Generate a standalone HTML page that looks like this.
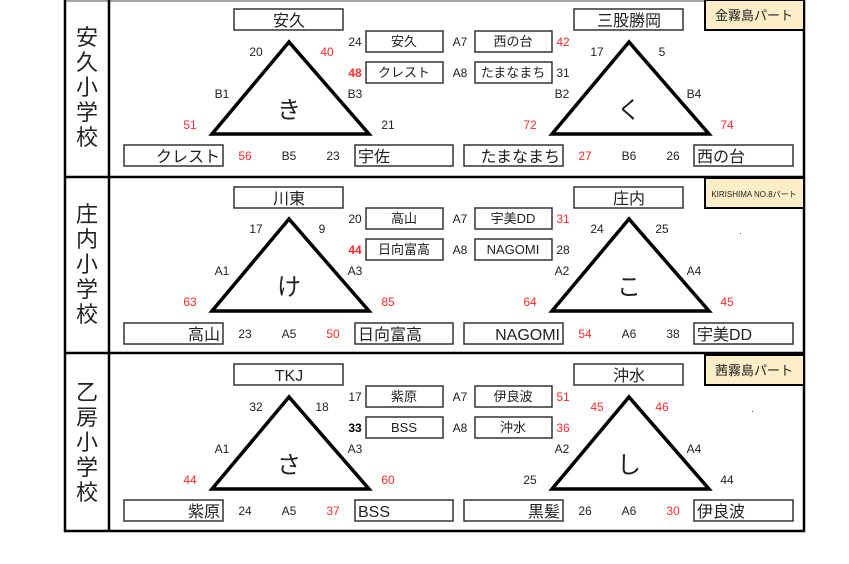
<!DOCTYPE html>
<html><head><meta charset="utf-8"><style>
html,body{margin:0;padding:0;background:#fff;width:849px;height:564px;overflow:hidden}
svg{display:block}
text{font-family:"Liberation Sans","Noto Sans CJK JP",sans-serif;fill:#222}
.n{font-size:12px;text-anchor:middle}
.r{fill:#ff2a2a}
.b{font-weight:bold}
.bx{fill:#fff;stroke:#333;stroke-width:1.5}
.t{font-size:16px;text-anchor:middle}
.s{font-size:13px;text-anchor:middle}
.c{font-size:24px;text-anchor:middle}
.v{font-size:22px;text-anchor:middle}
.tri{fill:#fff;stroke:#000;stroke-width:3.5;stroke-linejoin:miter}
</style></head><body>
<svg width="849" height="564" viewBox="0 0 849 564" xmlns="http://www.w3.org/2000/svg">
<rect x="0" y="0" width="849" height="564" fill="#fff"/>
<line x1="64" y1="1" x2="805" y2="1" stroke="#888" stroke-width="1.5"/>
<line x1="65" y1="0" x2="65" y2="532" stroke="#000" stroke-width="2.5"/>
<line x1="804" y1="0" x2="804" y2="532" stroke="#000" stroke-width="2.5"/>
<line x1="109" y1="0" x2="109" y2="532" stroke="#000" stroke-width="2.5"/>
<line x1="64" y1="177" x2="805" y2="177" stroke="#000" stroke-width="2.5"/>
<line x1="64" y1="353" x2="805" y2="353" stroke="#000" stroke-width="2.5"/>
<line x1="64" y1="531" x2="805" y2="531" stroke="#000" stroke-width="2.5"/>

<!-- labels -->
<rect x="705" y="0" width="99" height="30" fill="#fdeec8" stroke="#000" stroke-width="2"/>
<text x="754" y="20" style="font-size:13px;text-anchor:middle">金霧島パート</text>
<rect x="705" y="178" width="99" height="30" fill="#fdeec8" stroke="#000" stroke-width="2"/>
<text x="754" y="197" style="font-size:8px;text-anchor:middle">KIRISHIMA NO.8パート</text>
<rect x="705" y="355" width="99" height="30" fill="#fdeec8" stroke="#000" stroke-width="2"/>
<text x="754" y="375" style="font-size:13px;text-anchor:middle">茜霧島パート</text>
<rect x="740" y="233" width="1" height="1" fill="#555"/>
<rect x="752" y="411" width="1" height="1" fill="#555"/>

<!-- Section 1 -->
<g transform="translate(0,0)">
<text class="v" x="87" y="45">安</text><text class="v" x="87" y="70">久</text><text class="v" x="87" y="95">小</text><text class="v" x="87" y="120">学</text><text class="v" x="87" y="145">校</text>
<rect class="bx" x="234" y="9" width="109" height="21"/><text class="t" x="289" y="26">安久</text>
<rect class="bx" x="574" y="9" width="109" height="21"/><text class="t" x="629" y="26">三股勝岡</text>
<polygon class="tri" points="289,42 212,134 369,134"/>
<polygon class="tri" points="629,42 552,134 709,134"/>
<text class="c" x="289" y="118">き</text><text class="c" x="629" y="118">く</text>
<rect class="bx" x="366" y="31" width="77" height="21"/><text class="s" x="404" y="46">安久</text>
<rect class="bx" x="366" y="62" width="77" height="21"/><text class="s" x="404" y="77">クレスト</text>
<rect class="bx" x="475" y="31" width="77" height="21"/><text class="s" x="513" y="46">西の台</text>
<rect class="bx" x="475" y="62" width="77" height="21"/><text class="s" x="513" y="77">たまなまち</text>
<text class="n" x="355" y="46">24</text><text class="n r b" x="355" y="77">48</text>
<text class="n" x="460" y="46">A7</text><text class="n" x="460" y="77">A8</text>
<text class="n r" x="563" y="46">42</text><text class="n" x="563" y="77">31</text>
<text class="n" x="256" y="56">20</text><text class="n r" x="327" y="56">40</text>
<text class="n" x="222" y="98">B1</text><text class="n" x="355" y="98">B3</text>
<text class="n r" x="190" y="129">51</text><text class="n" x="388" y="129">21</text>
<text class="n" x="597" y="56">17</text><text class="n" x="662" y="56">5</text>
<text class="n" x="562" y="98">B2</text><text class="n" x="694" y="98">B4</text>
<text class="n r" x="530" y="129">72</text><text class="n r" x="727" y="129">74</text>
<rect class="bx" x="124" y="145" width="99" height="21"/><text class="t" x="220" y="162" style="text-anchor:end">クレスト</text>
<rect class="bx" x="355" y="145" width="98" height="21"/><text class="t" x="358" y="162" style="text-anchor:start">宇佐</text>
<rect class="bx" x="464" y="145" width="99" height="21"/><text class="t" x="560" y="162" style="text-anchor:end">たまなまち</text>
<rect class="bx" x="694" y="145" width="99" height="21"/><text class="t" x="697" y="162" style="text-anchor:start">西の台</text>
<text class="n r" x="245" y="160">56</text><text class="n" x="289" y="160">B5</text><text class="n" x="333" y="160">23</text>
<text class="n r" x="585" y="160">27</text><text class="n" x="629" y="160">B6</text><text class="n" x="673" y="160">26</text>
</g>

<!-- Section 2 -->
<g transform="translate(0,177)">
<text class="v" x="87" y="45">庄</text><text class="v" x="87" y="70">内</text><text class="v" x="87" y="95">小</text><text class="v" x="87" y="120">学</text><text class="v" x="87" y="145">校</text>
<rect class="bx" x="234" y="10" width="109" height="21"/><text class="t" x="289" y="27">川東</text>
<rect class="bx" x="574" y="10" width="109" height="21"/><text class="t" x="629" y="27">庄内</text>
<polygon class="tri" points="289,42 212,134 369,134"/>
<polygon class="tri" points="629,42 552,134 709,134"/>
<text class="c" x="289" y="118">け</text><text class="c" x="629" y="118">こ</text>
<rect class="bx" x="366" y="31" width="77" height="21"/><text class="s" x="404" y="46">高山</text>
<rect class="bx" x="366" y="62" width="77" height="21"/><text class="s" x="404" y="77">日向富高</text>
<rect class="bx" x="475" y="31" width="77" height="21"/><text class="s" x="513" y="46">宇美DD</text>
<rect class="bx" x="475" y="62" width="77" height="21"/><text class="s" x="513" y="77">NAGOMI</text>
<text class="n" x="355" y="46">20</text><text class="n r b" x="355" y="77">44</text>
<text class="n" x="460" y="46">A7</text><text class="n" x="460" y="77">A8</text>
<text class="n r" x="563" y="46">31</text><text class="n" x="563" y="77">28</text>
<text class="n" x="256" y="56">17</text><text class="n" x="322" y="56">9</text>
<text class="n" x="222" y="98">A1</text><text class="n" x="355" y="98">A3</text>
<text class="n r" x="190" y="129">63</text><text class="n r" x="388" y="129">85</text>
<text class="n" x="597" y="56">24</text><text class="n" x="662" y="56">25</text>
<text class="n" x="562" y="98">A2</text><text class="n" x="694" y="98">A4</text>
<text class="n r" x="530" y="129">64</text><text class="n r" x="727" y="129">45</text>
<rect class="bx" x="124" y="146" width="99" height="21"/><text class="t" x="220" y="163" style="text-anchor:end">高山</text>
<rect class="bx" x="355" y="146" width="98" height="21"/><text class="t" x="358" y="163" style="text-anchor:start">日向富高</text>
<rect class="bx" x="464" y="146" width="99" height="21"/><text class="t" x="560" y="163" style="text-anchor:end">NAGOMI</text>
<rect class="bx" x="694" y="146" width="99" height="21"/><text class="t" x="697" y="163" style="text-anchor:start">宇美DD</text>
<text class="n" x="245" y="161">23</text><text class="n" x="289" y="161">A5</text><text class="n r" x="333" y="161">50</text>
<text class="n r" x="585" y="161">54</text><text class="n" x="629" y="161">A6</text><text class="n" x="673" y="161">38</text>
</g>

<!-- Section 3 -->
<g transform="translate(0,355)">
<text class="v" x="87" y="45">乙</text><text class="v" x="87" y="70">房</text><text class="v" x="87" y="95">小</text><text class="v" x="87" y="120">学</text><text class="v" x="87" y="145">校</text>
<rect class="bx" x="234" y="9" width="109" height="21"/><text class="t" x="289" y="26">TKJ</text>
<rect class="bx" x="574" y="9" width="109" height="21"/><text class="t" x="629" y="26">沖水</text>
<polygon class="tri" points="289,42 212,134 369,134"/>
<polygon class="tri" points="629,42 552,134 709,134"/>
<text class="c" x="289" y="118">さ</text><text class="c" x="629" y="118">し</text>
<rect class="bx" x="366" y="31" width="77" height="21"/><text class="s" x="404" y="46">紫原</text>
<rect class="bx" x="366" y="62" width="77" height="21"/><text class="s" x="404" y="77">BSS</text>
<rect class="bx" x="475" y="31" width="77" height="21"/><text class="s" x="513" y="46">伊良波</text>
<rect class="bx" x="475" y="62" width="77" height="21"/><text class="s" x="513" y="77">沖水</text>
<text class="n" x="355" y="46">17</text><text class="n b" x="355" y="77" style="fill:#000">33</text>
<text class="n" x="460" y="46">A7</text><text class="n" x="460" y="77">A8</text>
<text class="n r" x="563" y="46">51</text><text class="n r" x="563" y="77">36</text>
<text class="n" x="256" y="56">32</text><text class="n" x="322" y="56">18</text>
<text class="n" x="222" y="98">A1</text><text class="n" x="355" y="98">A3</text>
<text class="n r" x="190" y="129">44</text><text class="n r" x="388" y="129">60</text>
<text class="n r" x="597" y="56">45</text><text class="n r" x="662" y="56">46</text>
<text class="n" x="562" y="98">A2</text><text class="n" x="694" y="98">A4</text>
<text class="n" x="530" y="129">25</text><text class="n" x="727" y="129">44</text>
<rect class="bx" x="124" y="145" width="99" height="21"/><text class="t" x="220" y="162" style="text-anchor:end">紫原</text>
<rect class="bx" x="355" y="145" width="98" height="21"/><text class="t" x="358" y="162" style="text-anchor:start">BSS</text>
<rect class="bx" x="464" y="145" width="99" height="21"/><text class="t" x="560" y="162" style="text-anchor:end">黒髪</text>
<rect class="bx" x="694" y="145" width="99" height="21"/><text class="t" x="697" y="162" style="text-anchor:start">伊良波</text>
<text class="n" x="245" y="160">24</text><text class="n" x="289" y="160">A5</text><text class="n r" x="333" y="160">37</text>
<text class="n" x="585" y="160">26</text><text class="n" x="629" y="160">A6</text><text class="n r" x="673" y="160">30</text>
</g>
</svg>
</body></html>
